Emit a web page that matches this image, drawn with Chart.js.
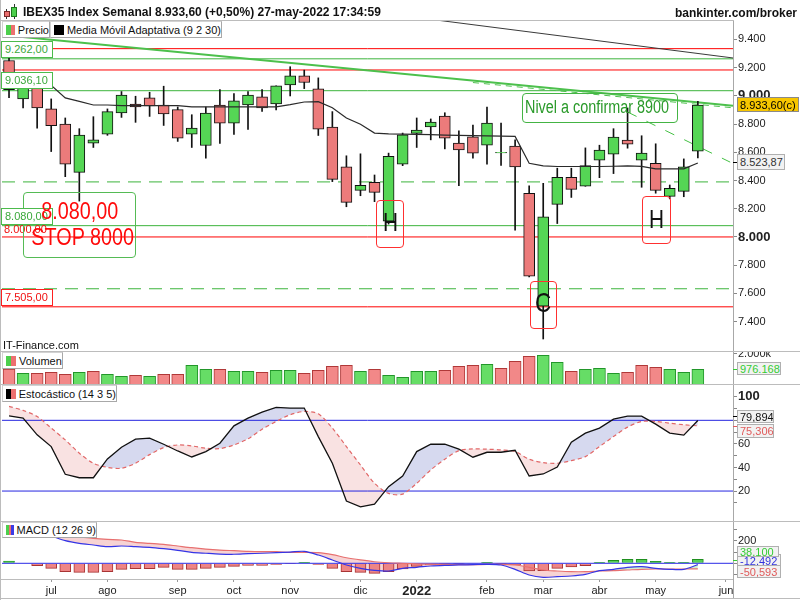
<!DOCTYPE html>
<html lang="es">
<head>
<meta charset="utf-8">
<title>IBEX35 Index Semanal</title>
<script src="https://cdn.jsdelivr.net/npm/chart.js@4.4.1/dist/chart.umd.min.js"></script>
<style>
  body { margin: 0; background: #fff; }
  #wrap { position: relative; width: 800px; height: 600px; overflow: hidden; background: #fff;
          font-family: "Liberation Sans", Arial, sans-serif; font-size: 11px; color: #111; }
  canvas { position: absolute; left: 0; }
  .abs { position: absolute; white-space: nowrap; }
  .sep { position: absolute; height: 1px; background: #bcbcbc; }
  .tab { position: absolute; box-sizing: border-box; height: 17px; display: flex; align-items: center;
         padding-left: 3px; background: #fff; border: 1px solid #d2d2d2;
         border-right-color: #a8a8a8; border-bottom-color: #a8a8a8; font-size: 11px; white-space: nowrap; }
  .tab i { display: inline-block; width: 10px; height: 10px; margin-right: 3px; }
  .lvl { position: absolute; left: 1px; box-sizing: border-box; width: 52px; height: 17px; line-height: 15px;
         padding-left: 3px; background: #fff; font-size: 11px; border: 1px solid; }
  .val { position: absolute; left: 737px; box-sizing: border-box; display: flex; align-items: center;
         padding-left: 2px; background: #f2f2f2; border: 1px solid #b0b0b0; font-size: 11px; white-space: nowrap; overflow: hidden; }
  .mark { position: absolute; left: 733px; width: 4px; height: 1px; }
  .box { position: absolute; box-sizing: border-box; border: 1px solid; border-radius: 4px; }
  .sx { display: inline-block; }
</style>
</head>
<body>
<div id="wrap">
  <canvas id="cPrice" width="800" height="330" style="top:21px"></canvas>
  <canvas id="cVol" width="800" height="32" style="top:352px"></canvas>
  <canvas id="cStoch" width="800" height="137" style="top:384px"></canvas>
  <canvas id="cMacd" width="800" height="78" style="top:522px"></canvas>

  <!-- marcos -->
  <div class="abs" style="left:0;top:0;width:1px;height:600px;background:#bcbcbc"></div>
  <div class="sep" style="left:0;top:20px;width:734px"></div>
  <div class="sep" style="left:0;top:351px;width:800px"></div>
  <div class="sep" style="left:0;top:384px;width:800px"></div>
  <div class="sep" style="left:0;top:521px;width:800px"></div>
  <div class="sep" style="left:0;top:579px;width:734px"></div>
  <div class="abs" style="left:733px;top:579px;width:1px;height:19px;background:#a8a8a8"></div>
  <div class="sep" style="left:0;top:598px;width:800px"></div>

  <!-- cabecera -->
  <div class="abs" style="left:6px;top:9px;width:1px;height:10px;background:#333"></div>
  <div class="abs" style="left:4px;top:11px;width:6px;height:6px;background:#ec7070;border:1px solid #7a2a2a;box-sizing:border-box"></div>
  <div class="abs" style="left:14px;top:4px;width:1px;height:15px;background:#333"></div>
  <div class="abs" style="left:11px;top:7px;width:6px;height:10px;background:#4ccf4c;border:1px solid #1d7a1d;box-sizing:border-box"></div>
  <div class="abs" style="left:23px;top:5px;font-weight:bold;font-size:12px;line-height:14px">IBEX35 Index Semanal 8.933,60 (+0,50%) 27-may-2022 17:34:59</div>
  <div class="abs" style="right:3px;top:6px;font-weight:bold;font-size:12px;line-height:14px">bankinter.com/broker</div>

  <!-- leyendas -->
  <div class="tab" style="left:2px;top:21px;width:48px"><i style="background:linear-gradient(90deg,#4ccf4c 50%,#ec7070 50%)"></i>Precio</div>
  <div class="tab" style="left:50px;top:21px;width:172px"><i style="background:#000"></i>Media Móvil Adaptativa (9 2 30)</div>
  <div class="tab" style="left:2px;top:352px;width:61px"><i style="background:linear-gradient(90deg,#4ccf4c 50%,#ec7070 50%)"></i>Volumen</div>
  <div class="tab" style="left:2px;top:385px;width:115px"><i style="background:linear-gradient(90deg,#000 50%,#ec7070 50%)"></i>Estocástico (14 3 5)</div>
  <div class="tab" style="left:2px;top:522px;width:95px;height:16px"><i style="background:linear-gradient(90deg,#4ccf4c 33%,#ec7070 33% 66%,#3b3be6 66%)"></i>MACD (12 26 9)</div>

  <!-- niveles -->
  <div class="lvl" style="top:41px;border-color:#4cbb4c;color:#3aa83a">9.262,00</div>
  <div class="lvl" style="top:72px;border-color:#4cbb4c;color:#3aa83a">9.036,10</div>
  <div class="abs" style="left:4px;top:221px;line-height:16px;color:#f01010;font-size:11px">8.000,00</div>
  <div class="box" style="left:23px;top:192px;width:113px;height:66px;border-color:#55bb55"></div>
  <div class="lvl" style="top:208px;border-color:#4cbb4c;color:#3aa83a">8.080,00</div>
  <div class="lvl" style="top:289px;border-color:#ff2020;color:#f01010">7.505,00</div>
  <div class="abs" style="left:23px;top:198px;width:113px;text-align:center;color:#ff0a0a;font-size:23px;line-height:26px">
    <span class="sx" style="transform:scaleX(0.86)">8.080,00</span><br>
    <span class="sx" style="transform:scaleX(0.86)">STOP 8000</span>
  </div>
  <div class="abs" style="left:3px;top:338px;line-height:14px;font-size:11px">IT-Finance.com</div>

  <!-- anotaciones -->
  <div class="box" style="left:376px;top:200px;width:28px;height:48px;border-color:#ff3030"></div>
  <div class="abs" style="left:376px;top:209px;width:28px;text-align:center;font-size:26px;line-height:26px"><span class="sx" style="transform:scaleX(0.8)">H</span></div>
  <div class="box" style="left:642px;top:196px;width:29px;height:48px;border-color:#ff3030"></div>
  <div class="abs" style="left:642px;top:206px;width:29px;text-align:center;font-size:26px;line-height:26px"><span class="sx" style="transform:scaleX(0.8)">H</span></div>
  <div class="box" style="left:530px;top:281px;width:27px;height:48px;border-color:#ff3030"></div>
  <div class="abs" style="left:530px;top:289px;width:27px;text-align:center;font-size:28px;line-height:28px"><span class="sx" style="transform:scaleX(0.8)">C</span></div>
  <div class="box" style="left:522px;top:93px;width:156px;height:30px;border-color:#44b444"></div>
  <div class="abs" style="left:525px;top:97px;color:#2a9a2a;font-size:18px;line-height:20px;transform:scaleX(0.8);transform-origin:0 50%">Nivel a confirmar 8900</div>

  <!-- valores del eje -->
  <div class="val" style="top:97px;width:62px;height:15px;background:#f7c600;border-color:#8a8a8a;color:#000">8.933,60(c)</div>
  <div class="val" style="top:154px;width:48px;height:16px;color:#333">8.523,87</div>
  <div class="mark" style="top:162px;background:#000"></div>
  <div class="val" style="top:362px;width:44px;height:13px;color:#33cc33">976.168</div>
  <div class="mark" style="top:369px;background:#33cc33"></div>
  <div class="val" style="top:410px;width:37px;height:13px;color:#111">79,894</div>
  <div class="mark" style="top:416px;background:#000"></div>
  <div class="val" style="top:424px;width:37px;height:14px;color:#e05a5a">75,306</div>
  <div class="mark" style="top:426px;background:#e05a5a"></div>
  <div class="val" style="top:554px;width:44px;height:13px;color:#3333dd">-12,492</div>
  <div class="val" style="top:546px;width:42px;height:11px;color:#33cc33">38,100</div>
  <div class="mark" style="top:560px;background:#33cc33"></div>
  <div class="val" style="top:565px;width:44px;height:13px;color:#e05a5a">-50,593</div>
</div>

<script>
// semanas (lunes de cada vela)
const weekStarts = ['2021-06-14', '2021-06-21', '2021-06-28', '2021-07-05', '2021-07-12', '2021-07-19', '2021-07-26',
  '2021-08-02', '2021-08-09', '2021-08-16', '2021-08-23', '2021-08-30', '2021-09-06', '2021-09-13', '2021-09-20',
  '2021-09-27', '2021-10-04', '2021-10-11', '2021-10-18', '2021-10-25', '2021-11-01', '2021-11-08', '2021-11-15',
  '2021-11-22', '2021-11-29', '2021-12-06', '2021-12-13', '2021-12-20', '2021-12-27', '2022-01-03', '2022-01-10',
  '2022-01-17', '2022-01-24', '2022-01-31', '2022-02-07', '2022-02-14', '2022-02-21', '2022-02-28', '2022-03-07',
  '2022-03-14', '2022-03-21', '2022-03-28', '2022-04-04', '2022-04-11', '2022-04-18', '2022-04-25', '2022-05-02',
  '2022-05-09', '2022-05-16', '2022-05-23'];
const monthTicks = [3, 7, 12, 16, 20, 25, 29, 34, 38, 42, 46, 51];
const monthNames = ['jul', 'ago', 'sep', 'oct', 'nov', 'dic', '2022', 'feb', 'mar', 'abr', 'may', 'jun'];

const openP = [9250, 8978, 9060, 8907, 8800, 8458, 8664, 8729, 8878, 8942, 8985, 8935, 8902, 8729, 8648, 8935, 8807,
  8935, 8992, 8942, 9077, 9141, 9049, 8779, 8496, 8330, 8387, 8112, 8515, 8734, 8779, 8857, 8665, 8710, 8650, 8596,
  8643, 8309, 7510, 8231, 8423, 8359, 8544, 8586, 8686, 8544, 8522, 8288, 8323, 8608];
const highP = [9265, 9080, 9090, 8978, 8843, 8767, 8852, 8907, 9030, 8997, 9025, 9068, 8921, 8866, 8921, 9044, 9016,
  9030, 9044, 9070, 9206, 9182, 9127, 8888, 8575, 8589, 8439, 8594, 8736, 8843, 8836, 8880, 8752, 8793, 8921, 8807,
  8688, 8363, 8380, 8487, 8487, 8631, 8650, 8767, 8914, 8717, 8660, 8368, 8553, 8960];
const lowP = [8987, 8914, 8771, 8605, 8427, 8254, 8634, 8720, 8847, 8812, 8854, 8790, 8677, 8634, 8558, 8662, 8726,
  8762, 8890, 8900, 8999, 9051, 8719, 8392, 8214, 8292, 8250, 8091, 8505, 8634, 8688, 8624, 8363, 8558, 8515, 8506,
  8048, 7716, 7277, 8095, 8280, 8359, 8420, 8449, 8629, 8352, 8310, 8270, 8285, 8560];
const closeP = [9044, 9058, 8914, 8788, 8515, 8722, 8688, 8888, 9006, 8921, 8928, 8871, 8700, 8771, 8878, 8807, 8964,
  9006, 8914, 9070, 9141, 9094, 8764, 8408, 8245, 8366, 8316, 8572, 8724, 8757, 8814, 8700, 8617, 8594, 8807, 8600,
  8496, 7723, 8143, 8423, 8337, 8506, 8615, 8707, 8658, 8594, 8330, 8344, 8496, 8934];
const amaP = [9100, 9095, 9085, 9075, 8985, 8960, 8935, 8935, 8930, 8930, 8930, 8930, 8930, 8921, 8921, 8921, 8921,
  8921, 8921, 8921, 8937, 8956, 8959, 8916, 8843, 8798, 8736, 8731, 8729, 8727, 8725, 8722, 8720, 8718, 8716, 8714,
  8712, 8522, 8503, 8499, 8499, 8499, 8499, 8501, 8503, 8500, 8482, 8482, 8482, 8524];

// volumen en miles
const volume = [996, 710, 710, 777, 644, 777, 843, 644, 511, 578, 511, 644, 644, 1242, 976, 976, 843, 843, 777, 910,
  910, 710, 910, 1175, 1242, 843, 976, 578, 445, 843, 843, 910, 1175, 1242, 1308, 1042, 1507, 1839, 1906, 1441,
  843, 976, 1042, 710, 777, 1242, 1109, 976, 777, 976];
const volUp = [0, 1, 0, 0, 0, 1, 0, 1, 1, 0, 1, 0, 0, 1, 1, 0, 1, 1, 0, 1, 1, 0, 0, 0, 0, 1, 0, 1, 1, 1,
  1, 0, 0, 0, 1, 0, 0, 0, 1, 1, 0, 1, 1, 1, 0, 0, 0, 1, 1, 1];

const stochK = [83.8, 81.9, 67.7, 57.7, 34.2, 31.3, 31.3, 47.2, 57.2, 64, 64.9, 59.7, 54, 48.9, 53.5, 60.6, 75.3,
  81.9, 87, 90.9, 90.4, 90.4, 66.2, 43.6, 11.5, 6.6, 8.9, 23.7, 32.8, 53.5, 59.7, 59.7, 55.5, 48.7, 52.9, 52.9,
  54.6, 32.8, 34.5, 40.4, 61.4, 69.1, 73.4, 81, 83.6, 83.6, 76.8, 69.1, 67.4, 79.9];
const stochD = [91.8, 88.4, 83.2, 73.4, 63.4, 52.1, 43.6, 40.1, 39.3, 43.6, 50.9, 56.9, 59.1, 58.3, 56.3, 56, 59.1,
  64.3, 72.5, 79, 84.7, 87.5, 85.5, 73.4, 57.7, 42.1, 26.6, 18, 17.4, 26.6, 37.9, 47, 54.3, 55.7, 55.5, 54.9,
  53.5, 47, 44.1, 43.6, 45.8, 49.2, 57.7, 66.2, 74.2, 79, 79, 77.6, 76.2, 75.3];

const macdLine = [330, 310, 280, 245, 203, 179, 164, 149, 155, 149, 143, 131, 116, 98, 90, 83, 81, 86, 90, 95, 101,
  107, 74, 30, -15, -45, -63, -69, -45, -36, -24, -18, -15, -12, -9, -15, -54, -105, -126, -120, -114, -99, -66,
  -54, -36, -30, -45, -54, -54, -12];
const signalLine = [290, 290, 280, 265, 250, 237, 224, 215, 209, 188, 179, 170, 155, 140, 128, 119, 113, 107, 104,
  104, 98, 98, 95, 77, 50, 30, 14, 5, 0, -5, -8, -10, -12, -12, -10, -10, -15, -36, -60, -69, -75, -75, -69, -66,
  -60, -54, -51, -51, -51, -50];
const macdHist = [20, 0, -21, -45, -75, -81, -81, -75, -54, -48, -48, -36, -54, -54, -45, -36, -27, -18, -18, -9, -2,
  9, -9, -45, -75, -81, -90, -75, -51, -27, -15, -3, -2, -15, 9, -2, -15, -69, -66, -45, -33, -21, 9, 27, 36, 36,
  18, 9, 9, 36];

const priceTicks = [7400, 7600, 7800, 8000, 8200, 8400, 8600, 8800, 9000, 9200, 9400];
const volTicks = [2000];
const stochTicks = [10, 20, 30, 40, 50, 60, 70, 80, 90, 100];
const macdTicks = [-100, 0, 100, 200, 300];

// niveles y lineas de tendencia dibujadas
const redLevels = [9334, 9183, 8000, 7505];
const greenLevels = [9262, 9036.1, 8080];
const dashedLevels = [8390, 7633];
const stochLevels = [80, 20];
const trendBlack = [[30, 9542], [51.5, 9268]];
const trendGreen = [[-0.5, 9430], [51.5, 8929]];
const trendGreenDash = [[33, 9094], [51.5, 8915]];
const confirmLine = [[44, 8885], [51.3, 8530]];

const F = '"Liberation Sans", Arial, sans-serif';
Chart.defaults.font.family = F;
Chart.defaults.font.size = 11;
Chart.defaults.color = '#222';

const X_MIN = -0.5, X_MAX = 51.5;
const GREEN = '#55d655', RED = '#ec7b7b';

const pts = arr => arr.map((v, i) => ({x: i, y: v}));

function thousands(v) {
  return String(v).replace(/\B(?=(\d{3})+(?!\d))/g, '.');
}

function level(v, color, dash) {
  return {type: 'line', data: [{x: X_MIN, y: v}, {x: X_MAX, y: v}], borderColor: color, borderWidth: 1,
    borderDash: dash || [], pointRadius: 0, order: 5};
}

function seg(p, color, dash, w) {
  return {type: 'line', data: p.map(q => ({x: q[0], y: q[1]})), borderColor: color, borderWidth: w,
    borderDash: dash, pointRadius: 0, order: 4};
}

function xAxis(show) {
  return {
    type: 'linear', min: X_MIN, max: X_MAX, offset: false, bounds: 'data', display: show,
    afterBuildTicks: s => { s.ticks = monthTicks.map(v => ({value: v})); },
    afterFit: s => {
      if (!show) return;
      s.height = 21; s.paddingLeft = 0; s.paddingRight = 0;
    },
    border: {display: false},
    grid: {drawOnChartArea: false, offset: false, tickLength: 3, tickColor: '#999'},
    ticks: {
      autoSkip: false, maxRotation: 0, padding: 2,
      callback: (v, i) => monthNames[i],
      font: ctx => monthNames[ctx.index] === '2022' ? {size: 13, weight: 'bold'} : {size: 11}
    }
  };
}

function yAxis(min, max, ticks, label, bold) {
  return {
    position: 'right', min: min, max: max, bounds: 'data', beginAtZero: false,
    afterBuildTicks: s => { s.ticks = ticks.map(v => ({value: v})); },
    afterFit: s => { s.width = 67; s.paddingTop = 0; s.paddingBottom = 0; },
    border: {display: true, color: '#a8a8a8'},
    grid: {drawOnChartArea: false, tickLength: 4, tickColor: '#888'},
    ticks: {
      autoSkip: false, padding: 1, callback: label,
      font: ctx => (ctx.tick && bold.includes(ctx.tick.value)) ? {size: 13, weight: 'bold'} : {size: 11}
    }
  };
}

function baseOptions(x, y) {
  return {
    responsive: false, animation: false, events: [],
    layout: {padding: {left: 2, right: 0, top: 0, bottom: 0}},
    plugins: {legend: {display: false}, tooltip: {enabled: false}, filler: {drawTime: 'beforeDatasetsDraw'}},
    scales: {x: x, y: y}
  };
}

// precio
new Chart(document.getElementById('cPrice'), {
  type: 'bar',
  data: {
    datasets: [
      {data: lowP.map((v, i) => ({x: i, y: [v, highP[i]]})), backgroundColor: '#111', barThickness: 1,
        grouped: false, order: 3},
      {data: openP.map((v, i) => ({x: i, y: [v, closeP[i]]})),
        backgroundColor: ctx => closeP[ctx.dataIndex] >= openP[ctx.dataIndex] ? GREEN : RED,
        borderColor: '#111', borderWidth: 1, borderSkipped: false, barThickness: 11, grouped: false, order: 2},
      {type: 'line', data: pts(amaP), borderColor: '#2a2a2a', borderWidth: 1.2, pointRadius: 0, order: 1},
      ...redLevels.map(v => level(v, '#ff0000')),
      ...greenLevels.map(v => level(v, '#3cb43c')),
      ...dashedLevels.map(v => level(v, '#3cb43c', [13, 8])),
      seg(trendBlack, '#3a3a3a', [], 1),
      seg(trendGreen, '#4cc04c', [], 2),
      seg(trendGreenDash, '#4cc04c', [6, 5], 1),
      seg(confirmLine, '#44c044', [10, 11], 1)
    ]
  },
  options: baseOptions(xAxis(false), yAxis(7192, 9530, priceTicks, v => thousands(v), [8000, 9000]))
});

// volumen
new Chart(document.getElementById('cVol'), {
  type: 'bar',
  data: {
    datasets: [{
      data: pts(volume),
      backgroundColor: ctx => volUp[ctx.dataIndex] ? '#66dd66' : '#f28888',
      borderColor: ctx => volUp[ctx.dataIndex] ? '#22962a' : '#b03838',
      borderWidth: 1, barThickness: 12, grouped: false
    }]
  },
  options: baseOptions(xAxis(false), yAxis(0, 2125, volTicks, v => thousands(v) + 'k', []))
});

// estocastico
new Chart(document.getElementById('cStoch'), {
  type: 'line',
  data: {
    datasets: [
      {data: pts(stochK), borderColor: '#111', borderWidth: 1.3, pointRadius: 0, order: 0,
        fill: {target: 1, above: 'rgba(165,170,220,0.45)', below: 'rgba(235,160,160,0.3)'}},
      {data: pts(stochD), borderColor: '#e26868', borderWidth: 1.2, borderDash: [4, 3], pointRadius: 0,
        tension: 0.3, order: 1},
      ...stochLevels.map(v => level(v, '#2525e0'))
    ]
  },
  options: baseOptions(xAxis(false), yAxis(-5.4, 110.8, stochTicks, v => v % 20 === 0 ? String(v) : '', [100]))
});

// MACD
const zeroLine = level(0, '#2a2ae6');
zeroLine.order = 2;
new Chart(document.getElementById('cMacd'), {
  type: 'bar',
  data: {
    datasets: [
      {data: pts(macdHist),
        backgroundColor: ctx => macdHist[ctx.dataIndex] >= 0 ? '#55d055' : '#ee8585',
        borderColor: ctx => macdHist[ctx.dataIndex] >= 0 ? '#1f8f1f' : '#a83434',
        borderWidth: 1, barThickness: 11, grouped: false, order: 3},
      zeroLine,
      {type: 'line', data: pts(macdLine), borderColor: '#3535e6', borderWidth: 1.2, pointRadius: 0, tension: 0.3,
        fill: {target: 3, above: 'rgba(140,215,140,0.4)', below: 'rgba(235,140,140,0.38)'}, order: 0},
      {type: 'line', data: pts(signalLine), borderColor: '#e87070', borderWidth: 1.2, pointRadius: 0,
        tension: 0.3, order: 1}
    ]
  },
  options: baseOptions(xAxis(true), yAxis(-140.8, 370.4, macdTicks, v => v === 200 ? '200' : '', []))
});
</script>
</body>
</html>
